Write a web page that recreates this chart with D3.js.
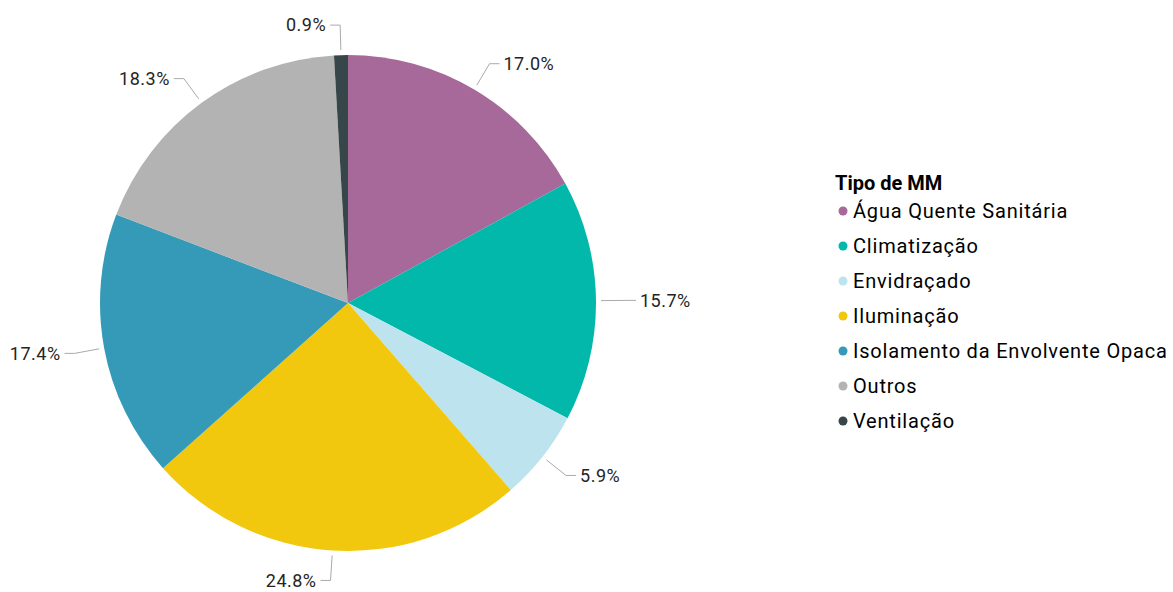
<!DOCTYPE html>
<html>
<head>
<meta charset="utf-8">
<script src="https://cdn.jsdelivr.net/npm/d3@7"></script>
<style>
  body { margin: 0; background: #fff; }
  svg { display: block; }
  text { font-family: Roboto, "DejaVu Sans", sans-serif; }
</style>
</head>
<body>
<svg id="chart" width="1173" height="592"></svg>
<script>
const categories = ["Água Quente Sanitária", "Climatização", "Envidraçado", "Iluminação", "Isolamento da Envolvente Opaca", "Outros", "Ventilação"];
const values = [17.0, 15.7, 5.9, 24.8, 17.4, 18.3, 0.9];
const labels = ["17.0%", "15.7%", "5.9%", "24.8%", "17.4%", "18.3%", "0.9%"];
const colors = ["#A66999", "#01B8AA", "#BDE3EF", "#F2C80F", "#3599B8", "#B3B3B3", "#374649"];
const legendTitle = "Tipo de MM";

const svg = d3.select("#chart");
const cx = 348, cy = 303, r = 248;

const data = categories.map((c, i) => ({ cat: c, value: values[i], label: labels[i], color: colors[i] }));

const pie = d3.pie().value(d => d.value).sort(null);
const arcs = pie(data);
const arc = d3.arc().innerRadius(0).outerRadius(r);

const g = svg.append("g").attr("transform", `translate(${cx},${cy})`);

g.selectAll("path.slice")
  .data(arcs)
  .join("path")
  .attr("class", "slice")
  .attr("d", arc)
  .attr("fill", d => d.data.color);

// leader lines and labels
const startArc = d3.arc().innerRadius(r + 5).outerRadius(r + 5);
const elbowArc = d3.arc().innerRadius(r + 30).outerRadius(r + 30);

arcs.forEach(a => {
  const mid = (a.startAngle + a.endAngle) / 2;
  const s = startArc.centroid(a);
  const e = elbowArc.centroid(a);
  const right = Math.sin(mid) >= 0;
  const hx = e[0] + (right ? 10 : -10);
  g.append("polyline")
    .attr("points", [s, e, [hx, e[1]]].map(p => p.join(",")).join(" "))
    .attr("fill", "none")
    .attr("stroke", "#AAAAAA")
    .attr("stroke-width", 1);
  g.append("text")
    .attr("x", hx + (right ? 4 : -4))
    .attr("y", e[1])
    .attr("dy", "0.35em")
    .attr("text-anchor", right ? "start" : "end")
    .attr("font-size", 18)
    .attr("letter-spacing", 0.5)
    .attr("fill", "#252423")
    .text(a.data.label);
});

// legend
const lg = svg.append("g").attr("transform", "translate(835,0)");
lg.append("text")
  .attr("x", 0).attr("y", 183)
  .attr("dy", "0.35em")
  .attr("font-size", 20)
  .attr("font-weight", "bold")
  .attr("fill", "#000")
  .text(legendTitle);

const ly = d3.scalePoint().domain(categories).range([211, 421]);
const items = lg.selectAll("g.item").data(data).join("g").attr("class", "item")
  .attr("transform", d => `translate(0,${ly(d.cat)})`);
items.append("circle").attr("cx", 8).attr("cy", 0).attr("r", 4.5).attr("fill", d => d.color);
items.append("text").attr("x", 18).attr("y", 0).attr("dy", "0.35em")
  .attr("font-size", 20).attr("letter-spacing", 0.8).attr("fill", "#000").text(d => d.cat);
</script>
</body>
</html>
